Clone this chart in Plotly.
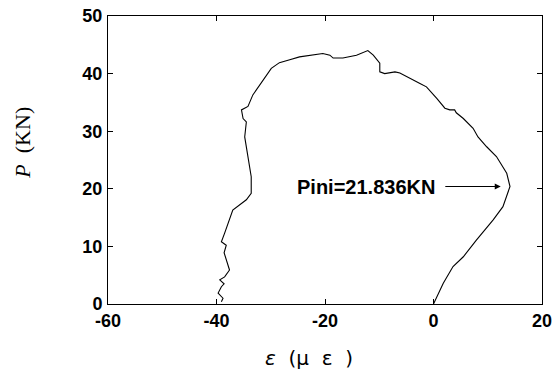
import plotly.graph_objects as go

strain = [0.0, 1.8, 3.6, 5.5, 7.9, 11.0, 12.8, 14.1, 13.5, 11.6, 9.8, 8.2, 7.3, 5.5, 4.2, 3.9,
          3.0, 2.1, 0.6, -0.7, -1.3, -2.5, -3.8, -6.2, -7.1, -9.0, -9.9, -9.9, -11.1, -12.1,
          -14.2, -16.7, -18.5, -19.1, -20.4, -22.8, -24.7, -26.5, -28.4, -29.9, -31.4, -33.3,
          -34.2, -35.4, -35.1, -34.5, -34.8, -34.2, -33.6, -33.6, -34.5, -37.0, -37.6, -38.5,
          -39.1, -38.2, -38.6, -38.2, -37.6, -38.5, -39.4, -38.6, -39.1, -39.7, -38.8, -39.1]
load = [0.0, 3.6, 6.5, 8.2, 11.1, 14.6, 16.9, 20.4, 22.7, 25.6, 27.3, 29.0, 30.5, 32.2, 33.2, 33.7,
        33.7, 34.0, 35.7, 37.2, 37.7, 38.3, 38.9, 40.1, 40.3, 40.0, 40.3, 41.8, 43.2, 44.0,
        43.2, 42.7, 42.7, 43.2, 43.5, 43.2, 42.9, 42.4, 41.9, 40.9, 38.9, 36.3,
        34.3, 33.7, 32.2, 31.6, 29.0, 25.6, 22.1, 19.2, 18.1, 16.3, 14.6, 12.3,
        10.8, 10.2, 8.9, 7.6, 5.9, 4.7, 4.2, 3.5, 3.0, 1.9, 1.0, 0.4]

x_ticks = [-60, -40, -20, 0, 20]
y_ticks = [0, 10, 20, 30, 40, 50]

pini_label = "Pini=21.836KN"
arrow_tip = (12.4, 20.4)
arrow_tail = (1.9, 20.4)

fig = go.Figure()
fig.add_trace(go.Scatter(x=strain, y=load, mode="lines",
                         line=dict(color="black", width=1.1), showlegend=False))

tickfont = dict(family="Liberation Sans, Arial", size=18, color="black")
axis_common = dict(showline=True, linecolor="black", linewidth=1, mirror="ticks",
                   ticks="inside", ticklen=5, tickcolor="black", showgrid=False,
                   zeroline=False, tickfont=tickfont, automargin=False)
fig.update_xaxes(range=[-60, 20], tickvals=x_ticks,
                 ticktext=["<b>%d</b>" % v for v in x_ticks],
                 ticklabelstandoff=0, **axis_common)
fig.update_yaxes(range=[0, 50], tickvals=y_ticks,
                 ticktext=["<b>%d</b>" % v for v in y_ticks],
                 ticklabelstandoff=1, **axis_common)

fig.add_annotation(x=arrow_tip[0], y=arrow_tip[1], ax=arrow_tail[0], ay=arrow_tail[1],
                   axref="x", ayref="y", xref="x", yref="y", text="", showarrow=True,
                   arrowhead=2, arrowsize=1.2, arrowwidth=1, arrowcolor="black")
fig.add_annotation(x=0.6, y=arrow_tip[1], xref="x", yref="y", text="<b>" + pini_label + "</b>",
                   showarrow=False, xanchor="right", yanchor="middle",
                   font=dict(family="Liberation Sans, Arial", size=20, color="black"))

fig.add_annotation(x=0.463, y=-0.1875, xref="paper", yref="paper", yanchor="middle",
                   xanchor="center",
                   text="<i>ε</i>  (μ  ε  )", showarrow=False,
                   font=dict(family="DejaVu Sans", size=20, color="black"))
fig.add_annotation(x=-0.196, y=0.56, xref="paper", yref="paper", textangle=-90,
                   xanchor="center", yanchor="middle",
                   text="<i>P</i>  (KN)", showarrow=False,
                   font=dict(family="Liberation Serif, Times New Roman", size=22, color="black"))

fig.update_layout(width=560, height=371, margin=dict(l=108, r=18, t=16, b=67),
                  paper_bgcolor="white", plot_bgcolor="white")
fig.write_html("out.html")
